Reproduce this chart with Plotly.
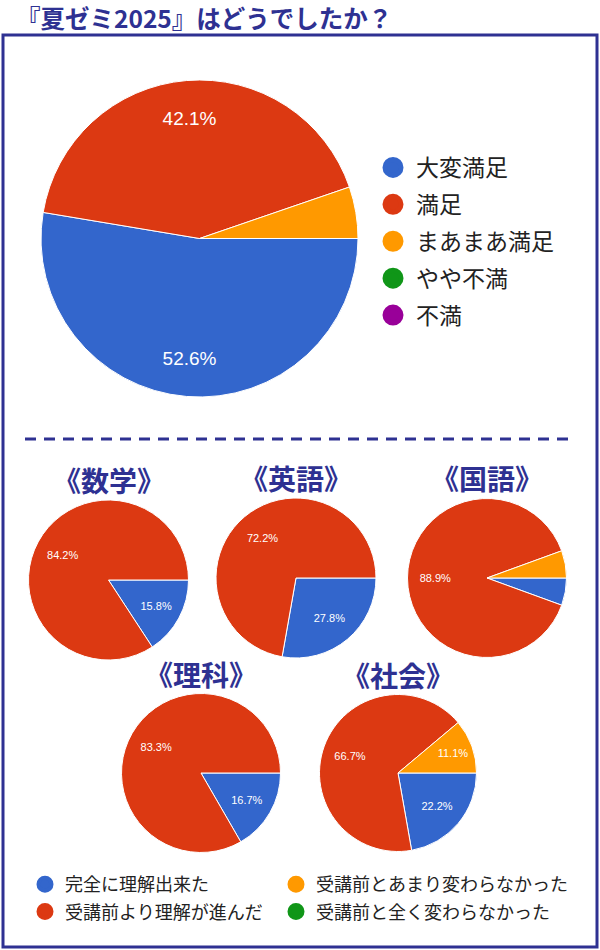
import plotly.graph_objects as go

W, H = 600, 950

title_text = "『夏ゼミ2025』はどうでしたか？"

# Overall satisfaction
overall_labels = ["大変満足", "満足", "まあまあ満足", "やや不満", "不満"]
overall_values = [10, 8, 1, 0, 0]
overall_colors = ["#3366cc", "#dc3912", "#ff9900", "#109618", "#990099"]

# Per-subject understanding
subject_names = ["数学", "英語", "国語", "理科", "社会"]
subject_labels = ["完全に理解出来た", "受講前より理解が進んだ",
                  "受講前とあまり変わらなかった", "受講前と全く変わらなかった"]
subject_colors = ["#3366cc", "#dc3912", "#ff9900", "#109618"]
math_values = [3, 16, 0, 0]
english_values = [5, 13, 0, 0]
japanese_values = [1, 16, 1, 0]
science_values = [1, 5, 0, 0]
social_values = [2, 6, 1, 0]
subject_values = [math_values, english_values, japanese_values, science_values, social_values]

NAVY = "#2e3192"
TEXT = "#222222"
JP = "Noto Sans CJK JP"
NUM = "Liberation Sans, Arial"


def px_x(v):
    return v / W


def px_y(v):
    return 1 - v / H


def dom(cx, cy, r):
    return dict(x=[px_x(cx - r), px_x(cx + r)], y=[px_y(cy + r), px_y(cy - r)])


def pie_pair(labels, values, colors, domain, fsize, label_hole):
    """Filled pie (slices + white separators) plus a transparent twin that only
    carries the percentage labels, pushed outwards with a hole."""
    total = float(sum(values))
    keep = [i for i, v in enumerate(values) if v > 0]
    labs = [labels[i] for i in keep]
    vals = [values[i] for i in keep]
    common = dict(labels=labs, values=vals, sort=False, direction="clockwise",
                  rotation=90, domain=domain, showlegend=False)
    filled = go.Pie(marker=dict(colors=[colors[i] for i in keep],
                                line=dict(color="white", width=1)),
                    textinfo="none", hoverinfo="label+percent", **common)
    tmpl = ["%{percent:.1%}" if values[i] / total >= 0.08 else "" for i in keep]
    text = go.Pie(marker=dict(colors=["rgba(0,0,0,0)"] * len(keep), line=dict(width=0)),
                  hole=label_hole, texttemplate=tmpl, textposition="inside",
                  insidetextorientation="horizontal",
                  insidetextfont=dict(family=NUM, size=fsize, color="white"),
                  hoverinfo="skip", **common)
    return [filled, text]


fig = go.Figure()

# main pie
fig.add_traces(pie_pair(overall_labels, overall_values, overall_colors,
                        dom(199.5, 238.5, 158.5), 19, 0.52))

# subject pies: (center x, center y, radius)
pie_geo = [(108.5, 580, 80), (296, 578, 80), (487, 578, 79.5), (201, 773, 79.5), (398, 773, 78.5)]
annotations = []
for name, vals, (cx, cy, r) in zip(subject_names, subject_values, pie_geo):
    fig.add_traces(pie_pair(subject_labels, vals, subject_colors, dom(cx, cy, r), 11, 0.3))
    annotations.append(dict(
        text="《" + name + "》", x=px_x(cx), y=px_y(cy - r - 20), xref="paper", yref="paper",
        xanchor="center", yanchor="middle", showarrow=False,
        font=dict(family=JP, size=28, color=NAVY, weight="bold")))

annotations.append(dict(
    text=title_text, x=px_x(14), y=px_y(17), xref="paper", yref="paper",
    xanchor="left", yanchor="middle", showarrow=False,
    font=dict(family=JP, size=24.5, color=NAVY, weight="bold")))

# legend entries
for lab, col in zip(overall_labels, overall_colors):
    fig.add_trace(go.Scatter(x=[None], y=[None], mode="markers", name=lab, legend="legend",
                             legendgroup=lab,
                             marker=dict(color=col, size=16, line=dict(color=col, width=5)),
                             hoverinfo="skip"))
for i, (lab, col) in enumerate(zip(subject_labels, subject_colors)):
    fig.add_trace(go.Scatter(x=[None], y=[None], mode="markers", name=lab,
                             legend="legend2" if i in (0, 1) else "legend3",
                             legendgroup=lab,
                             marker=dict(color=col, size=13, line=dict(color=col, width=4)),
                             hoverinfo="skip"))

shapes = [
    dict(type="rect", xref="paper", yref="paper", x0=px_x(3), x1=px_x(597),
         y0=px_y(947), y1=px_y(35), line=dict(color=NAVY, width=3)),
    dict(type="line", xref="paper", yref="paper", x0=px_x(25), x1=px_x(575),
         y0=px_y(439), y1=px_y(439), line=dict(color=NAVY, width=3, dash="11px,8px")),
]

fig.update_layout(
    width=W, height=H, margin=dict(l=0, r=0, t=0, b=0),
    paper_bgcolor="white", plot_bgcolor="white",
    xaxis=dict(visible=False), yaxis=dict(visible=False),
    shapes=shapes, annotations=annotations,
    legend=dict(x=px_x(370), y=px_y(146), xanchor="left", yanchor="top",
                traceorder="grouped", tracegroupgap=4, itemwidth=36,
                font=dict(family=JP, size=23, color=TEXT), bgcolor="rgba(0,0,0,0)"),
    legend2=dict(x=px_x(25), y=px_y(866), xanchor="left", yanchor="top",
                 traceorder="grouped", tracegroupgap=1,
                 font=dict(family=JP, size=18, color=TEXT), bgcolor="rgba(0,0,0,0)"),
    legend3=dict(x=px_x(276), y=px_y(866), xanchor="left", yanchor="top",
                 traceorder="grouped", tracegroupgap=1,
                 font=dict(family=JP, size=18, color=TEXT), bgcolor="rgba(0,0,0,0)"),
)

fig.write_html("out.html", config={"displayModeBar": False},
               post_script="document.body.style.margin='0';")
